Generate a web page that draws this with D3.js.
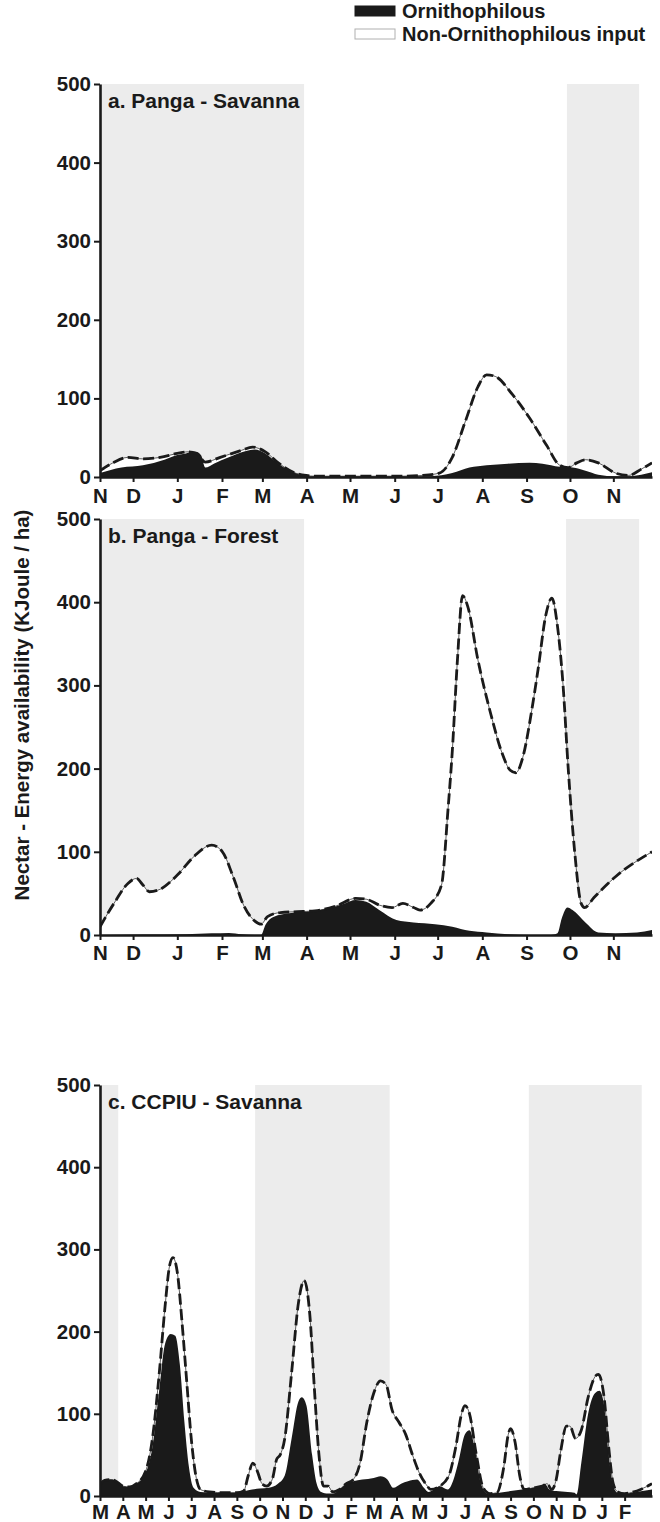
<!DOCTYPE html>
<html>
<head>
<meta charset="utf-8">
<script src="https://cdn.jsdelivr.net/npm/d3@7"></script>
<style>
  body { margin: 0; background: #fff; }
  text { font-family: "Liberation Sans", Arial, Helvetica, sans-serif; font-weight: bold; fill: #1a1a1a; }
</style>
</head>
<body>
<div id="chart"></div>
<script>
// Month tick labels and their positions (month index from the axis start)
const monthsAB = ["N", "D", "J", "F", "M", "A", "M", "J", "J", "A", "S", "O", "N"];
const tickPosAB = [0, 0.77, 1.8, 2.84, 3.78, 4.81, 5.82, 6.86, 7.86, 8.9, 9.93, 10.94, 11.95];
const monthsC = ["M", "A", "M", "J", "J", "A", "S", "O", "N", "D", "J", "F",
                 "M", "A", "M", "J", "J", "A", "S", "O", "N", "D", "J", "F"];
const tickPosC = d3.range(24);
const yTicks = [0, 100, 200, 300, 400, 500];

// Shaded (wet season) periods, in month index
const bandsA = [[0, 4.75], [10.87, 12.55]];
const bandsB = [[0, 4.75], [10.85, 12.55]];
const bandsC = [[0, 0.8], [6.8, 12.7], [18.8, 23.75]];

// a. Panga - Savanna  [month index, KJ/ha]
const aTotal = [[0,8],[0.3,18],[0.65,25],[1,23],[1.4,25],[1.8,30],[2.05,32],[2.25,30],[2.45,19],[2.8,25],[3.3,34],[3.55,38],
  [3.85,32],[4.15,18],[4.5,6],[4.8,2],[5,1],[6,1],[7,1],[7.5,2],[7.9,5],[8.2,25],[8.5,70],[8.8,115],[9,130],[9.2,128],
  [9.6,105],[10,75],[10.4,40],[10.7,15],[10.9,12],[11.1,18],[11.3,22],[11.6,18],[12,5],[12.3,2],[12.6,10],[12.85,18]];
const aOrn = [[0,5],[0.5,12],[1,15],[1.5,22],[1.8,28],[2,30],[2.2,32],[2.35,28],[2.45,12],[2.65,17],[3,25],[3.4,33],
  [3.6,35],[3.85,30],[4.15,17],[4.5,6],[4.8,1],[5,0.5],[7,0.5],[7.7,1],[8.2,5],[8.6,12],[9,15],[9.5,17],[10,18],[10.3,17],
  [10.7,13],[11,12],[11.3,8],[11.6,3],[12,1],[12.3,1],[12.6,3],[12.85,6]];

// b. Panga - Forest
const bTotal = [[0,10],[0.35,40],[0.65,62],[0.85,68],[1,60],[1.15,52],[1.4,55],[1.8,72],[2.2,95],[2.6,108],[2.85,100],
  [3.1,70],[3.35,35],[3.6,17],[3.75,13],[3.9,22],[4.2,27],[4.6,28],[5,29],[5.5,35],[5.95,44],[6.2,43],[6.5,36],[6.8,33],
  [7.05,38],[7.3,33],[7.45,30],[7.7,38],[7.95,60],[8.1,150],[8.2,220],[8.32,330],[8.44,408],[8.56,395],[8.8,330],[9.1,265],
  [9.35,220],[9.55,198],[9.68,195],[9.85,215],[10.05,270],[10.2,320],[10.38,385],[10.52,405],[10.64,375],[10.78,300],
  [10.9,200],[11.05,100],[11.2,38],[11.28,33],[11.5,45],[12,70],[12.85,100]];
const bOrn = [[0,0],[1,0.5],[2,1],[2.6,2],[3,2.5],[3.3,1],[3.6,0],[3.75,0],[3.85,12],[4.05,22],[4.4,26],[4.8,28],[5.3,32],
  [5.7,38],[5.95,42],[6.2,40],[6.5,30],[6.9,18],[7.3,15],[7.8,13],[8.2,10],[8.6,5],[9,3],[9.5,1],[10,0],[10.5,0],[10.65,2],
  [10.75,20],[10.88,33],[11,30],[11.3,15],[11.6,3],[12,2],[12.5,3],[12.85,6]];

// c. CCPIU - Savanna
const cTotal = [[0,14],[0.2,19],[0.5,20],[0.8,16],[1,12],[1.3,11],[1.6,15],[2,30],[2.3,70],[2.6,150],[2.85,230],[3.05,280],
  [3.2,290],[3.4,270],[3.6,210],[3.8,140],[4,70],[4.2,25],[4.4,8],[4.8,5],[5.5,4],[6,4],[6.3,6],[6.5,25],[6.7,40],[6.9,30],
  [7.1,15],[7.3,12],[7.55,20],[7.75,45],[7.9,50],[8.1,70],[8.4,150],[8.7,235],[8.95,262],[9.2,220],[9.4,130],[9.6,50],
  [9.8,12],[10,12],[10.2,5],[10.5,8],[10.8,15],[11.1,20],[11.4,40],[11.7,90],[12,125],[12.3,140],[12.55,135],[12.8,105],
  [13.1,90],[13.4,75],[13.7,50],[14,28],[14.3,14],[14.5,8],[14.9,12],[15.3,25],[15.6,60],[15.85,100],[16,110],[16.2,100],
  [16.5,50],[16.8,10],[17.1,3],[17.4,4],[17.7,35],[17.9,75],[18,82],[18.2,65],[18.4,25],[18.6,8],[19,10],[19.4,12],
  [19.6,15],[19.8,8],[20,20],[20.2,55],[20.45,85],[20.6,85],[20.85,70],[21.1,80],[21.4,120],[21.7,145],[21.85,148],
  [22.1,120],[22.3,60],[22.5,15],[22.7,5],[23,3],[23.4,5],[23.7,8],[24.2,15]];
const cOrn = [[0,14],[0.2,19],[0.5,20],[0.8,16],[1,12],[1.3,11],[1.6,15],[2,28],[2.3,60],[2.6,130],[2.85,185],[3.1,197],
  [3.3,195],[3.5,160],[3.7,90],[3.9,35],[4.1,10],[4.4,5],[5,4],[6,4],[6.5,7],[7,9],[7.4,10],[7.8,15],[8.1,25],[8.4,70],
  [8.7,115],[8.85,120],[9.05,110],[9.3,50],[9.5,15],[9.7,5],[10,3],[10.2,3],[10.5,8],[10.8,15],[11.1,18],[11.5,20],[12,22],
  [12.3,24],[12.6,20],[12.85,10],[13.2,15],[13.5,18],[13.9,20],[14.2,10],[14.4,5],[14.9,12],[15.25,8],[15.5,20],[15.7,40],
  [16,75],[16.2,80],[16.45,55],[16.7,15],[17,3],[17.5,4],[18,6],[18.5,8],[19,10],[19.3,12],[19.5,15],[19.7,8],[20,6],
  [20.5,5],[20.8,4],[20.9,2],[21.1,40],[21.4,100],[21.7,125],[21.9,128],[22.1,110],[22.3,50],[22.5,12],[22.7,4],[23,3],
  [23.5,5],[24.2,8]];

const width = 660, height = 1522;
const left = 100, right = 652;
const fontSize = "20.5px";

const svg = d3.select("#chart").append("svg")
    .attr("width", width)
    .attr("height", height);

// Panels
const panels = [
  { title: "a. Panga - Savanna", top: 84, h: 393, labels: monthsAB, ticks: tickPosAB, end: 12.85, pad: 6,
    bands: bandsA, total: aTotal, orn: aOrn },
  { title: "b. Panga - Forest", top: 519, h: 416, labels: monthsAB, ticks: tickPosAB, end: 12.85, pad: 5,
    bands: bandsB, total: bTotal, orn: bOrn },
  { title: "c. CCPIU - Savanna", top: 1085, h: 411, labels: monthsC, ticks: tickPosC, end: 24.2, pad: 3,
    bands: bandsC, total: cTotal, orn: cOrn }
];

panels.forEach((p, i) => {
  const x = d3.scaleLinear().domain([0, p.end]).range([left, right]);
  const y = d3.scaleLinear().domain([0, 500]).range([p.top + p.h, p.top]);
  const g = svg.append("g");

  const clipId = "clip" + i;
  svg.append("clipPath").attr("id", clipId)
    .append("rect")
    .attr("x", left).attr("y", p.top)
    .attr("width", right - left).attr("height", p.h);

  // grey bands
  g.selectAll(".band")
    .data(p.bands)
    .enter()
    .append("rect")
    .attr("x", d => x(d[0]))
    .attr("width", d => x(d[1]) - x(d[0]))
    .attr("y", p.top)
    .attr("height", p.h)
    .attr("fill", "#ececec");

  const area = d3.area()
    .x(d => x(d[0]))
    .y0(y(0))
    .y1(d => y(d[1]))
    .curve(d3.curveMonotoneX);
  const line = d3.line()
    .x(d => x(d[0]))
    .y(d => y(d[1]))
    .curve(d3.curveMonotoneX);

  const plot = g.append("g").attr("clip-path", `url(#${clipId})`);

  // total input (white area with thin outline)
  plot.append("path")
    .attr("d", area(p.total))
    .attr("fill", "#fff");
  plot.append("path")
    .attr("d", line(p.total))
    .attr("fill", "none")
    .attr("stroke", "#1a1a1a")
    .attr("stroke-width", 0.7);

  // ornithophilous
  plot.append("path")
    .attr("d", area(p.orn))
    .attr("fill", "#1a1a1a");

  // dashed total line
  plot.append("path")
    .attr("d", line(p.total))
    .attr("fill", "none")
    .attr("stroke", "#1a1a1a")
    .attr("stroke-width", 2.8)
    .attr("stroke-dasharray", "11,4.5");

  // axes
  const yAxis = d3.axisLeft(y).tickValues(yTicks).tickSize(6).tickSizeOuter(0).tickPadding(3);
  const xAxis = d3.axisBottom(x).tickValues(p.ticks)
    .tickFormat((d, j) => p.labels[j]).tickSize(5).tickSizeOuter(0).tickPadding(p.pad);

  const ya = g.append("g")
    .attr("transform", `translate(${left},0)`)
    .call(yAxis);
  const xa = g.append("g")
    .attr("transform", `translate(0,${p.top + p.h})`)
    .call(xAxis);

  [ya, xa].forEach(a => {
    a.select(".domain").attr("stroke", "#1a1a1a").attr("stroke-width", 2.6);
    a.selectAll(".tick line").attr("stroke", "#1a1a1a").attr("stroke-width", 2);
    a.selectAll(".tick text").style("font-size", fontSize).attr("fill", "#1a1a1a");
  });

  // panel title
  g.append("text")
    .attr("x", left + 8)
    .attr("y", p.top + 24)
    .style("font-size", "21px")
    .text(p.title);
});

// Y axis title
svg.append("text")
  .attr("transform", `translate(29,${705}) rotate(-90)`)
  .attr("text-anchor", "middle")
  .style("font-size", fontSize)
  .text("Nectar - Energy availability (KJoule / ha)");

// Legend
const legendItems = [
  { name: "Ornithophilous", fill: "#1a1a1a", stroke: "#1a1a1a" },
  { name: "Non-Ornithophilous input", fill: "#fff", stroke: "#b0b0b0" }
];
const legend = svg.append("g").attr("transform", "translate(355,5)");
legendItems.forEach((d, i) => {
  legend.append("rect")
    .attr("x", 0)
    .attr("y", i * 23 + 1)
    .attr("width", 40)
    .attr("height", 10)
    .attr("fill", d.fill)
    .attr("stroke", d.stroke)
    .attr("stroke-width", 1);
  legend.append("text")
    .attr("x", 47)
    .attr("y", i * 23 + 13)
    .style("font-size", "20px")
    .text(d.name);
});
</script>
</body>
</html>
